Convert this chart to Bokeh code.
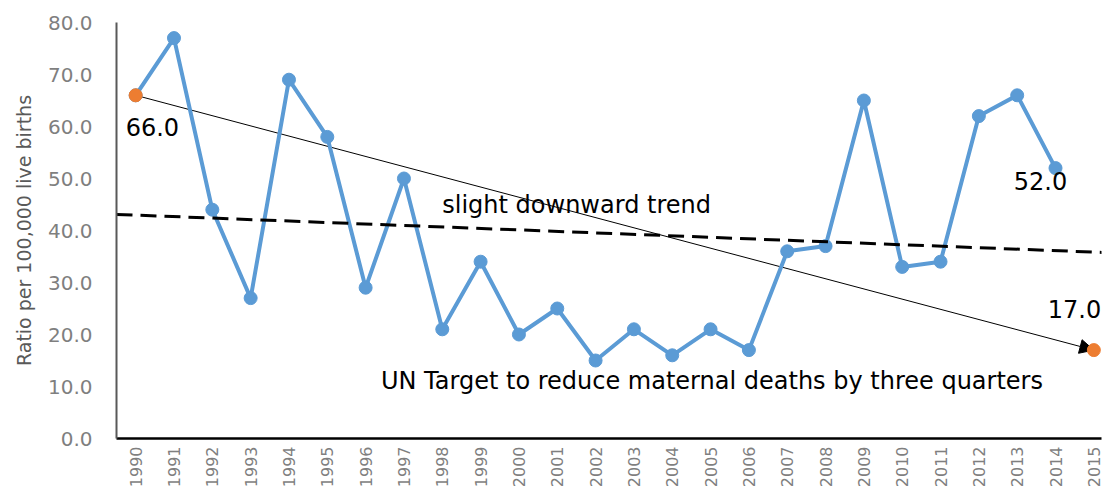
from bokeh.plotting import figure
from bokeh.models import Arrow, NormalHead, FixedTicker, Range1d, Label, CustomJSTickFormatter
from bokeh.embed import file_html
from bokeh.resources import INLINE
import math

years = list(range(1990, 2015))
ratio = [66, 77, 44, 27, 69, 58, 29, 50, 21, 34, 20, 25, 15, 21, 16, 21, 17,
         36, 37, 65, 33, 34, 62, 66, 52]
target_years = [1990, 2015]
target_vals = [66, 17]
trend_x = [1989.5, 2015.5]
trend_y = [43.1, 35.7]
tick_years = list(range(1990, 2016))
y_ticks = [0, 10, 20, 30, 40, 50, 60, 70, 80]

BLUE = "#5B9BD5"
ORANGE = "#ED7D31"
FONT = "DejaVu Sans"

p = figure(width=1109, height=490, output_backend="svg", toolbar_location=None,
           x_range=Range1d(1989.5, 2015.2), y_range=Range1d(0, 80),
           min_border_left=116, min_border_right=8, min_border_top=22,
           min_border_bottom=52)
p.outline_line_color = None
p.grid.visible = False

# axes
p.yaxis.ticker = FixedTicker(ticks=y_ticks)
p.yaxis.formatter = CustomJSTickFormatter(code="return tick.toFixed(1);")
p.yaxis.axis_label = "Ratio per 100,000 live births"
p.yaxis.axis_label_text_font = FONT
p.yaxis.axis_label_text_font_style = "normal"
p.yaxis.axis_label_text_font_size = "19px"
p.yaxis.axis_label_text_color = "#595959"
p.yaxis.axis_label_standoff = 10
p.yaxis.major_label_text_font = FONT
p.yaxis.major_label_text_font_size = "20px"
p.yaxis.major_label_text_color = "#7F7F7F"
p.yaxis.major_tick_line_color = None
p.yaxis.minor_tick_line_color = None
p.yaxis.major_label_standoff = 18
p.yaxis.axis_line_color = "#595959"
p.yaxis.axis_line_width = 2

p.xaxis.ticker = FixedTicker(ticks=tick_years)
p.xaxis.major_label_orientation = math.pi / 2
p.xaxis.major_label_text_font = FONT
p.xaxis.major_label_text_font_size = "16px"
p.xaxis.major_label_text_color = "#7F7F7F"
p.xaxis.major_tick_line_color = None
p.xaxis.major_tick_out = 0
p.xaxis.minor_tick_line_color = None
p.xaxis.minor_tick_out = 0
p.xaxis.major_label_standoff = 8
p.xaxis.axis_line_color = "#000000"
p.xaxis.axis_line_width = 2.5

# arrow toward UN target (under the markers)
arr = Arrow(x_start=target_years[0], y_start=target_vals[0],
            x_end=target_years[1], y_end=target_vals[1],
            line_color="black", line_width=1,
            end=NormalHead(size=14, fill_color="black", line_color="black"))
arr.level = "underlay"
p.add_layout(arr)

# main series
p.line(years, ratio, line_color=BLUE, line_width=4)
p.scatter(years, ratio, size=13, fill_color=BLUE, line_color=BLUE)

# trend line
p.line(trend_x, trend_y, line_color="black", line_width=3, line_dash="16 8")

# target points
p.scatter(target_years, target_vals, size=13, fill_color=ORANGE, line_color=ORANGE)

def lab(x, y, text, xo=0, yo=0, align="left"):
    p.add_layout(Label(x=x, y=y, text=text, x_offset=xo, y_offset=yo,
                       text_font=FONT, text_font_size="24px",
                       text_color="black", text_align=align,
                       text_baseline="middle"))

lab(target_years[0], target_vals[0], f"{target_vals[0]:.1f}", xo=-10, yo=-32)
lab(years[-1], ratio[-1], f"{ratio[-1]:.1f}", xo=-15, yo=-13, align="center")
lab(target_years[1], target_vals[1], f"{target_vals[1]:.1f}", xo=-46, yo=41)
lab(1998.0, 45.0, "slight downward trend")
lab(1996.4, 11.0, "UN Target to reduce maternal deaths by three quarters")

open("out.html", "w").write(file_html(p, INLINE))
